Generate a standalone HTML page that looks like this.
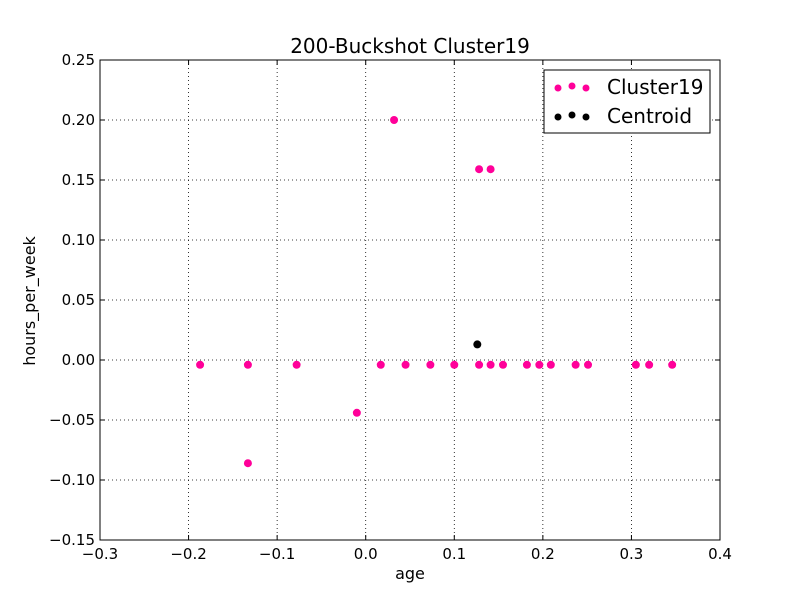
<!DOCTYPE html>
<html><head><meta charset="utf-8"><style>
body{margin:0;background:#fff;}
svg text{font-family:"DejaVu Sans","Liberation Sans",sans-serif;}
</style></head><body>
<svg id="chart" width="800" height="600" xmlns="http://www.w3.org/2000/svg">
<rect width="800" height="600" fill="#fff"/>
<text x="410" y="53" font-size="20" text-anchor="middle">200-Buckshot Cluster19</text>
<g id="grid"></g>
<g id="ticks"></g>
<g id="marks"></g>
<rect x="100" y="60" width="620" height="480" fill="none" stroke="#000" stroke-width="1"/>
<text x="410" y="579" font-size="16" text-anchor="middle">age</text>
<text transform="translate(35,301) rotate(-90)" font-size="16" text-anchor="middle">hours_per_week</text>
<g>
<rect x="544" y="70" width="166" height="63" fill="#fff" stroke="#000"/>
<g>
<circle cx="558" cy="88" r="3.5" fill="#ff0099"/><circle cx="572" cy="86" r="3.5" fill="#ff0099"/><circle cx="586" cy="88" r="3.5" fill="#ff0099"/>
<text x="607" y="94" font-size="20">Cluster19</text></g>
<g>
<circle cx="558" cy="117" r="3.5" fill="#000"/><circle cx="572" cy="115" r="3.5" fill="#000"/><circle cx="586" cy="117" r="3.5" fill="#000"/>
<text x="607" y="123" font-size="20">Centroid</text></g>
</g>
</svg>
<script>
const xTicks=[-0.3,-0.2,-0.1,0.0,0.1,0.2,0.3,0.4];
const xTickLabels=["\u22120.3","\u22120.2","\u22120.1","0.0","0.1","0.2","0.3","0.4"];
const yTicks=[-0.15,-0.10,-0.05,0.00,0.05,0.10,0.15,0.20,0.25];
const yTickLabels=["\u22120.15","\u22120.10","\u22120.05","0.00","0.05","0.10","0.15","0.20","0.25"];
const clusterX=[-0.187,-0.133,-0.078,-0.010,-0.133,0.017,0.045,0.073,0.100,0.128,0.141,0.155,0.182,0.196,0.209,0.237,0.251,0.305,0.320,0.346,0.032,0.128,0.141];
const clusterY=[-0.004,-0.004,-0.004,-0.044,-0.086,-0.004,-0.004,-0.004,-0.004,-0.004,-0.004,-0.004,-0.004,-0.004,-0.004,-0.004,-0.004,-0.004,-0.004,-0.004,0.200,0.159,0.159];
const centroidX=[0.126];
const centroidY=[0.013];
const NS="http://www.w3.org/2000/svg";
const sx=v=>100+(v+0.3)/0.7*620;
const sy=v=>60+(0.25-v)/0.4*480;
const grid=document.getElementById('grid'),ticks=document.getElementById('ticks'),marks=document.getElementById('marks');
function mk(t,a,p){const e=document.createElementNS(NS,t);for(const k in a)e.setAttribute(k,a[k]);p.appendChild(e);return e;}
xTicks.forEach((v,i)=>{const x=sx(v);
 const g=mk('line',{x1:x,x2:x,y1:60,y2:540,stroke:'#000','stroke-dasharray':'1,3','stroke-width':0.8},grid);
 
 
 mk('line',{x1:x,x2:x,y1:540,y2:535,stroke:'#000'},ticks);mk('line',{x1:x,x2:x,y1:60,y2:65,stroke:'#000'},ticks);
 const t=mk('text',{x:x,y:559,'font-size':15,'text-anchor':'middle'},ticks);t.textContent=xTickLabels[i];
 
 });
yTicks.forEach((v,i)=>{const y=sy(v);
 const g=mk('line',{x1:100,x2:720,y1:y,y2:y,stroke:'#000','stroke-dasharray':'1,3','stroke-width':0.8},grid);
 
 
 mk('line',{x1:100,x2:105,y1:y,y2:y,stroke:'#000'},ticks);mk('line',{x1:715,x2:720,y1:y,y2:y,stroke:'#000'},ticks);
 const t=mk('text',{x:95,y:y+5,'font-size':15,'text-anchor':'end'},ticks);t.textContent=yTickLabels[i];
 
 });
clusterX.forEach((v,i)=>{const c=mk('circle',{cx:sx(v),cy:sy(clusterY[i]),r:4,fill:'#ff0099'},marks);
 
 });
centroidX.forEach((v,i)=>{const c=mk('circle',{cx:sx(v),cy:sy(centroidY[i]),r:4,fill:'#000'},marks);
 
 });
</script>
</body></html>
